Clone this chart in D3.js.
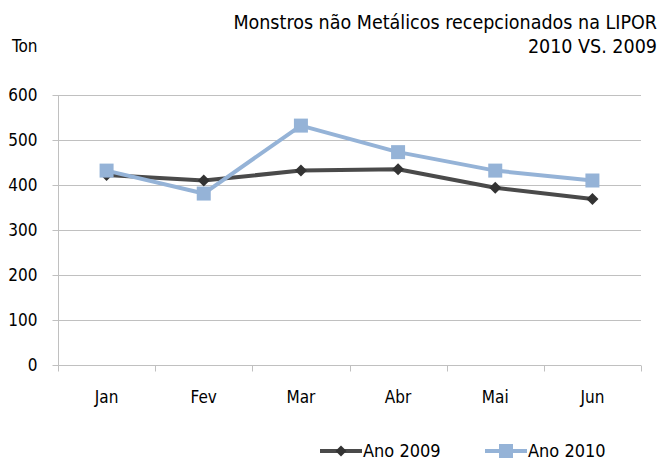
<!DOCTYPE html>
<html><head><meta charset="utf-8">
<script src="https://cdn.jsdelivr.net/npm/d3@7"></script>
<style>body{margin:0;background:#fff}svg{display:block}text{font-family:"DejaVu Sans Condensed","DejaVu Sans",Verdana,sans-serif;font-stretch:condensed;fill:#000}</style>
</head><body>
<script>
const categories = ["Jan","Fev","Mar","Abr","Mai","Jun"];
const ano2009 = [422, 410, 432, 435, 394, 369];
const ano2010 = [432, 381, 532, 473, 432, 410];
const yTicks = [0,100,200,300,400,500,600];
const seriesNames = ["Ano 2009","Ano 2010"];
const titleLines = ["Monstros não Metálicos recepcionados na LIPOR","2010 VS. 2009"];

const W=661,H=461;
const svg=d3.select("body").append("svg").attr("width",W).attr("height",H);
const L=58,R=641,T=95,B=365;
const x=d3.scaleBand().domain(categories).range([L,R]);
const y=d3.scaleLinear().domain([0,600]).range([B,T]);

// gridlines
svg.append("g").selectAll("line").data(yTicks.filter(d=>d>0)).join("line")
  .attr("x1",L).attr("x2",R).attr("y1",d=>y(d)+0.5).attr("y2",d=>y(d)+0.5)
  .attr("stroke","#c0c0c0").attr("stroke-width",1);

// y axis
const ya=svg.append("g").attr("transform",`translate(${L+0.5},0)`)
  .call(d3.axisLeft(y).tickValues(yTicks).tickSize(6).tickPadding(15));
ya.select(".domain").attr("stroke","#c0c0c0").attr("d",`M0,${y(600)+0.5}V${B+0.5}`);
ya.selectAll(".tick line").attr("stroke","#c0c0c0");
ya.selectAll("text").style("font-size","17px").style("font-family",null).attr("fill","#000");

// x axis
const xa=svg.append("g").attr("transform",`translate(0,${B+0.5})`);
xa.append("line").attr("x1",L).attr("x2",R).attr("stroke","#c0c0c0");
const bounds=categories.map(c=>x(c)).concat([R]);
xa.selectAll("line.tk").data(bounds).join("line").attr("class","tk")
  .attr("x1",d=>Math.round(d)+0.5).attr("x2",d=>Math.round(d)+0.5).attr("y1",0).attr("y2",6).attr("stroke","#c0c0c0");
xa.selectAll("text").data(categories).join("text")
  .attr("x",d=>x(d)+x.bandwidth()/2).attr("y",37).attr("text-anchor","middle")
  .style("font-size","17px").text(d=>d);

const cx=d=>x(d)+x.bandwidth()/2;
const line=d3.line().x((d,i)=>cx(categories[i])).y(d=>y(d));

const c09="#4a4a4a", c10="#95b3d7";
svg.append("path").datum(ano2009).attr("d",line).attr("fill","none").attr("stroke",c09).attr("stroke-width",4).attr("stroke-linejoin","round");
svg.append("path").datum(ano2010).attr("d",line).attr("fill","none").attr("stroke",c10).attr("stroke-width",4).attr("stroke-linejoin","round");

svg.append("g").selectAll("path").data(ano2009).join("path")
  .attr("transform",(d,i)=>`translate(${cx(categories[i])},${y(d)}) rotate(45)`)
  .attr("d",d3.symbol().type(d3.symbolSquare).size(72)).attr("fill","#333");
svg.append("g").selectAll("rect").data(ano2010).join("rect")
  .attr("x",(d,i)=>cx(categories[i])-7).attr("y",d=>y(d)-7).attr("width",14).attr("height",14).attr("fill",c10);

// title
svg.append("g").selectAll("text").data(titleLines).join("text")
  .attr("x",657).attr("y",(d,i)=>29+i*24).attr("text-anchor","end")
  .style("font-size","19.5px").text(d=>d);
svg.append("text").attr("x",12).attr("y",52).style("font-size","17px").text("Ton");

// legend
const ly=451;
const lg=[{n:seriesNames[0],c:c09,x0:320,m:"d"},{n:seriesNames[1],c:c10,x0:485,m:"s"}];
const g=svg.append("g");
lg.forEach(o=>{
  g.append("line").attr("x1",o.x0).attr("x2",o.x0+42).attr("y1",ly).attr("y2",ly).attr("stroke",o.c).attr("stroke-width",4);
  if(o.m==="d") g.append("path").attr("transform",`translate(${o.x0+21},${ly}) rotate(45)`).attr("d",d3.symbol().type(d3.symbolSquare).size(60)).attr("fill","#333");
  else g.append("rect").attr("x",o.x0+14).attr("y",ly-7).attr("width",14).attr("height",14).attr("fill",o.c);
  g.append("text").attr("x",o.x0+43).attr("y",ly+6).style("font-size","18px").text(o.n);
});
</script>
</body></html>
